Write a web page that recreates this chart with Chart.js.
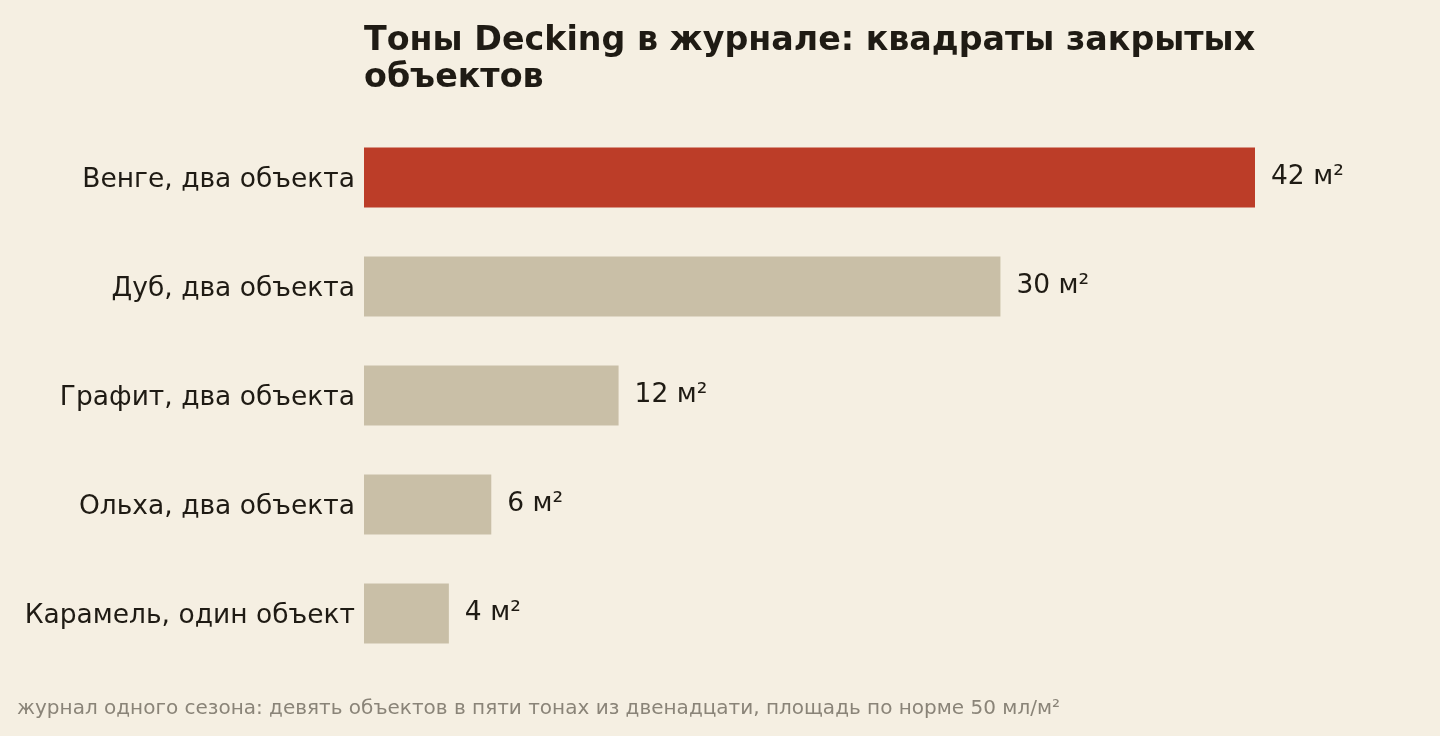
<!DOCTYPE html>
<html><head><meta charset="utf-8">
<script src="https://cdn.jsdelivr.net/npm/chart.js@4.4.1/dist/chart.umd.min.js"></script>
<style>html,body{margin:0;padding:0;background:#f5efe2;}#wrap{width:1440px;height:736px;position:relative;}</style>
</head><body><div id="wrap"><canvas id="c"></canvas></div>
<script>
const categories = ["Венге, два объекта","Дуб, два объекта","Графит, два объекта","Ольха, два объекта","Карамель, один объект"];
const values = [42,30,12,6,4];
const valueLabels = ["42 м²","30 м²","12 м²","6 м²","4 м²"];
const titleLines = ["Тоны Decking в журнале: квадраты закрытых","объектов"];
const footerText = "журнал одного сезона: девять объектов в пяти тонах из двенадцати, площадь по норме 50 мл/м²";
const barColors = ["#bc3d28","#c9bfa7","#c9bfa7","#c9bfa7","#c9bfa7"];
const FONT = "'DejaVu Sans', sans-serif";

const deco = {
  id:'deco',
  beforeDraw(chart){
    const ctx=chart.ctx; ctx.save(); ctx.fillStyle='#f5efe2'; ctx.fillRect(0,0,chart.width,chart.height); ctx.restore();
  },
  afterDraw(chart){
    const ctx=chart.ctx, ca=chart.chartArea;
    ctx.save();
    ctx.fillStyle='#1f1b14'; ctx.font="bold 33.3px "+FONT; ctx.textBaseline='alphabetic'; ctx.textAlign='left';
    titleLines.forEach((t,i)=>ctx.fillText(t, ca.left, 49.5+i*37));
    ctx.fillStyle='#8a8478'; ctx.font="20px "+FONT;
    ctx.fillText(footerText, 17, 714);
    ctx.fillStyle='#1f1b14'; ctx.font="26.5px "+FONT; ctx.textBaseline='middle';
    const meta=chart.getDatasetMeta(0);
    meta.data.forEach((b,i)=>ctx.fillText(valueLabels[i], b.x+16, b.y));
    ctx.restore();
  }
};

new Chart(document.getElementById('c'),{
  type:'bar',
  data:{labels:categories,datasets:[{data:values,backgroundColor:barColors,barPercentage:0.55,categoryPercentage:1}]},
  options:{
    indexAxis:'y',responsive:true,maintainAspectRatio:false,animation:false,
    layout:{padding:{top:123,bottom:68,left:0,right:185}},
    plugins:{legend:{display:false},tooltip:{enabled:false}},
    scales:{
      x:{min:0,max:42,display:false,grid:{display:false}},
      y:{grid:{display:false,drawTicks:false},border:{display:false},
         ticks:{color:'#1f1b14',font:{family:FONT,size:26.5},padding:9,labelOffset:2.5},
         afterFit(s){s.width=364;}}
    }
  },
  plugins:[deco]
});
</script></body></html>
